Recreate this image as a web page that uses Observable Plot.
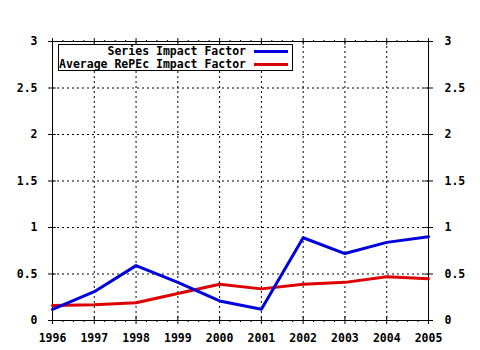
<!DOCTYPE html>
<html>
<head>
<meta charset="utf-8">
<script src="https://cdn.jsdelivr.net/npm/d3@7"></script>
<script src="https://cdn.jsdelivr.net/npm/@observablehq/plot@0.6"></script>
<style>
  html, body { margin: 0; padding: 0; background: #fff; }
  #wrap { position: relative; width: 480px; height: 350px; }
  #wrap svg { display: block; }
  .legend {
    position: absolute; left: 58px; top: 44px; width: 233px; height: 25px;
    border: 1px solid #000; background: #fff; box-sizing: content-box;
    font-family: "DejaVu Sans Mono", monospace; font-weight: bold; font-size: 11.5px;
  }
  .row { position: absolute; left: 0; width: 233px; height: 13px; }
  .row .lbl { position: absolute; right: 46px; top: 0; line-height: 13px; white-space: nowrap; }
  .row .sw { position: absolute; left: 195px; width: 34px; height: 3px; top: 5px; }
</style>
</head>
<body>
<div id="wrap"></div>
<script>
const years = [1996, 1997, 1998, 1999, 2000, 2001, 2002, 2003, 2004, 2005];
const seriesIF = [0.12, 0.31, 0.59, 0.41, 0.21, 0.12, 0.89, 0.72, 0.84, 0.90];
const averageIF = [0.16, 0.17, 0.19, 0.29, 0.39, 0.34, 0.39, 0.41, 0.47, 0.45];
const yTicks = [0, 0.5, 1, 1.5, 2, 2.5, 3];
const yTickLabels = ["0", "0.5", "1", "1.5", "2", "2.5", "3"];
const seriesNames = ["Series Impact Factor", "Average RePEc Impact Factor"];
const seriesColors = ["#0000dd", "#dd0000"];

const minorX = d3.range(1996, 2005.001, 0.25).filter(v => !Number.isInteger(v));
const dataS = years.map((y, i) => ({year: y, v: seriesIF[i]}));
const dataA = years.map((y, i) => ({year: y, v: averageIF[i]}));
const font = '"DejaVu Sans Mono", monospace';

const chart = Plot.plot({
  width: 480, height: 350,
  marginLeft: 52, marginRight: 52, marginTop: 41, marginBottom: 30,
  style: {fontFamily: font, fontSize: "11.5px", fontWeight: "bold", color: "#000", background: "#fff"},
  x: {domain: [1996, 2005], label: null},
  y: {domain: [0, 3], label: null},
  marks: [
    Plot.gridX(years, {stroke: "#000", strokeOpacity: 1, strokeDasharray: "2,3"}),
    Plot.gridY(yTicks, {stroke: "#000", strokeOpacity: 1, strokeDasharray: "2,3"}),
    Plot.frame({stroke: "#000"}),
    Plot.axisX(years, {anchor: "bottom", tickSize: 4, tickPadding: 9, tickFormat: d => String(d), fill: "#000"}),
    Plot.axisX(minorX, {anchor: "bottom", tickSize: 2, text: null}),
    Plot.axisX(years, {anchor: "top", tickSize: 4, text: null}),
    Plot.axisX(minorX, {anchor: "top", tickSize: 2, text: null}),
    Plot.axisY(yTicks, {anchor: "left", tickSize: 4, tickPadding: 11, tickFormat: (d, i) => yTickLabels[i], fill: "#000"}),
    Plot.axisY(yTicks, {anchor: "right", tickSize: 4, tickPadding: 12, textAnchor: "start", tickFormat: (d, i) => yTickLabels[i], fill: "#000"}),
    Plot.ruleY(yTicks, {y: d => d, x1: 1996, x2: 1996.09, stroke: "#000"}),
    Plot.ruleY(yTicks, {y: d => d, x1: 2004.91, x2: 2005, stroke: "#000"}),
    Plot.ruleX(years, {x: d => d, y1: 0, y2: 0.04, stroke: "#000"}),
    Plot.ruleX(years, {x: d => d, y1: 2.96, y2: 3, stroke: "#000"}),
    Plot.line(dataA, {x: "year", y: "v", stroke: seriesColors[1], strokeWidth: 3, strokeLinejoin: "round"}),
    Plot.line(dataS, {x: "year", y: "v", stroke: seriesColors[0], strokeWidth: 3, strokeLinejoin: "round"})
  ]
});
const wrap = document.getElementById("wrap");
wrap.appendChild(chart);

const legend = document.createElement("div");
legend.className = "legend";
seriesNames.forEach((name, i) => {
  const row = document.createElement("div");
  row.className = "row";
  row.style.top = (i * 13) + "px";
  const lbl = document.createElement("span");
  lbl.className = "lbl";
  lbl.textContent = name;
  const sw = document.createElement("span");
  sw.className = "sw";
  sw.style.background = seriesColors[i];
  row.appendChild(lbl);
  row.appendChild(sw);
  legend.appendChild(row);
});
wrap.appendChild(legend);
</script>
</body>
</html>
